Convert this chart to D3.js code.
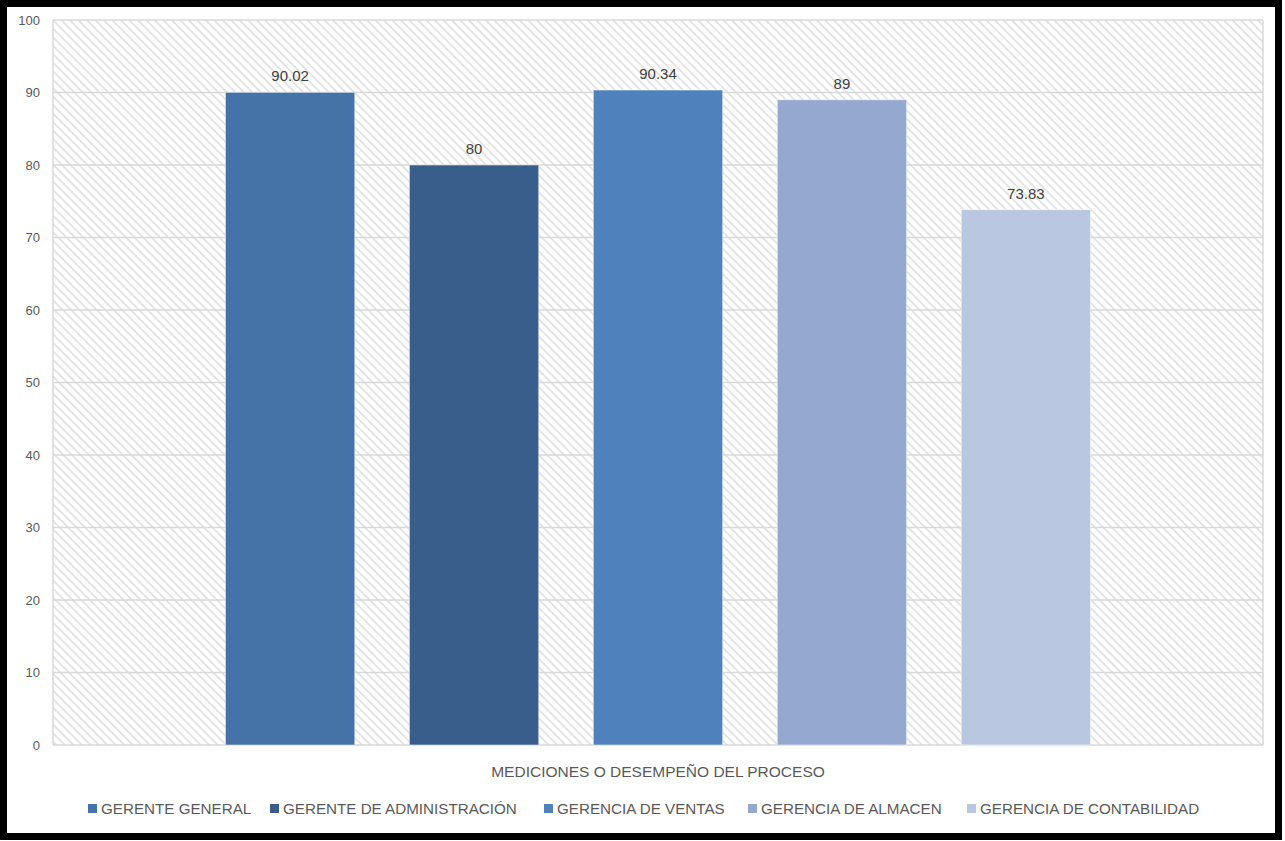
<!DOCTYPE html>
<html>
<head>
<meta charset="utf-8">
<script src="https://cdn.jsdelivr.net/npm/d3@7"></script>
<style>
  html, body { margin: 0; padding: 0; background: #ffffff; }
  svg { display: block; }
</style>
</head>
<body>
<svg id="chart" width="1285" height="841"></svg>
<script>
// Series (one bar per management area) and their measured performance
const series = ["GERENTE GENERAL", "GERENTE DE ADMINISTRACIÓN", "GERENCIA DE VENTAS", "GERENCIA DE ALMACEN", "GERENCIA DE CONTABILIDAD"];
const values = [90.02, 80, 90.34, 89, 73.83];
const valueLabels = ["90.02", "80", "90.34", "89", "73.83"];
const colors = ["#4673A7", "#3A5E8C", "#4F81BD", "#95A8D0", "#BAC7E0"];
const yTicks = [0, 10, 20, 30, 40, 50, 60, 70, 80, 90, 100];
const axisTitle = "MEDICIONES O DESEMPEÑO DEL PROCESO";

const svg = d3.select("#chart");
const W = 1285, H = 841;
const font = "'Liberation Sans', Arial, sans-serif";

// Outer frame
svg.append("rect").attr("x", 0).attr("y", 0).attr("width", W).attr("height", H).attr("fill", "#ffffff");
svg.append("rect").attr("x", 3.5).attr("y", 3.5).attr("width", 1275).attr("height", 833)
  .attr("fill", "none").attr("stroke", "#000").attr("stroke-width", 7);

const plot = { left: 53, right: 1263, top: 20, bottom: 745 };

// Diagonal hatch background (lines running top-left to bottom-right)
const defs = svg.append("defs");
const pat = defs.append("pattern").attr("id", "hatch")
  .attr("patternUnits", "userSpaceOnUse").attr("width", 6).attr("height", 6)
  .attr("patternTransform", "rotate(45)");
pat.append("rect").attr("width", 6).attr("height", 6).attr("fill", "#ffffff");
pat.append("line").attr("x1", 0).attr("y1", 0).attr("x2", 6).attr("y2", 0)
  .attr("stroke", "#dedede").attr("stroke-width", 3.2);

svg.append("rect").attr("x", plot.left).attr("y", plot.top)
  .attr("width", plot.right - plot.left).attr("height", plot.bottom - plot.top)
  .attr("fill", "url(#hatch)");

const y = d3.scaleLinear().domain([0, 100]).range([plot.bottom, plot.top]);
const x = d3.scaleBand().domain(series).range([plot.left, plot.right])
  .paddingInner(0.297).paddingOuter(0.9375);

// Gridlines
svg.append("g").selectAll("line").data(yTicks).join("line")
  .attr("x1", plot.left).attr("x2", plot.right)
  .attr("y1", d => y(d)).attr("y2", d => y(d))
  .attr("stroke", "#d9d9d9").attr("stroke-width", 1.5);
svg.append("line").attr("x1", plot.left).attr("x2", plot.left)
  .attr("y1", plot.top).attr("y2", plot.bottom)
  .attr("stroke", "#d9d9d9").attr("stroke-width", 1.5);
svg.append("line").attr("x1", plot.right).attr("x2", plot.right)
  .attr("y1", plot.top).attr("y2", plot.bottom)
  .attr("stroke", "#d9d9d9").attr("stroke-width", 1.5);

// Y axis labels
const yAxis = d3.axisLeft(y).tickValues(yTicks).tickSize(0).tickPadding(13);
const gy = svg.append("g").attr("transform", `translate(${plot.left},0)`).call(yAxis);
gy.select(".domain").remove();
gy.selectAll("text").attr("fill", "#595959").attr("font-size", 13).attr("font-family", font);

// Bars
svg.append("g").selectAll("rect").data(series).join("rect")
  .attr("x", d => x(d)).attr("width", x.bandwidth())
  .attr("y", (d, i) => y(values[i])).attr("height", (d, i) => y(0) - y(values[i]))
  .attr("fill", (d, i) => colors[i])
  .attr("stroke", "#ffffff").attr("stroke-opacity", 0.5).attr("stroke-width", 1);

// Value labels
svg.append("g").selectAll("text").data(series).join("text")
  .attr("x", d => x(d) + x.bandwidth() / 2)
  .attr("y", (d, i) => y(values[i]) - 11)
  .attr("text-anchor", "middle")
  .attr("font-family", font).attr("font-size", 15).attr("fill", "#404040")
  .text((d, i) => valueLabels[i]);

// Category axis title
svg.append("text").attr("x", (plot.left + plot.right) / 2).attr("y", 777)
  .attr("text-anchor", "middle").attr("font-family", font).attr("font-size", 15.5)
  .attr("fill", "#595959").text(axisTitle);

// Legend
const legendX = [88, 270, 544, 748, 967];
const lg = svg.append("g");
series.forEach((s, i) => {
  lg.append("rect").attr("x", legendX[i]).attr("y", 804).attr("width", 9).attr("height", 9)
    .attr("fill", colors[i]);
  lg.append("text").attr("x", legendX[i] + 13).attr("y", 814)
    .attr("font-family", font).attr("font-size", 15.2).attr("fill", "#595959").text(s);
});
</script>
</body>
</html>
